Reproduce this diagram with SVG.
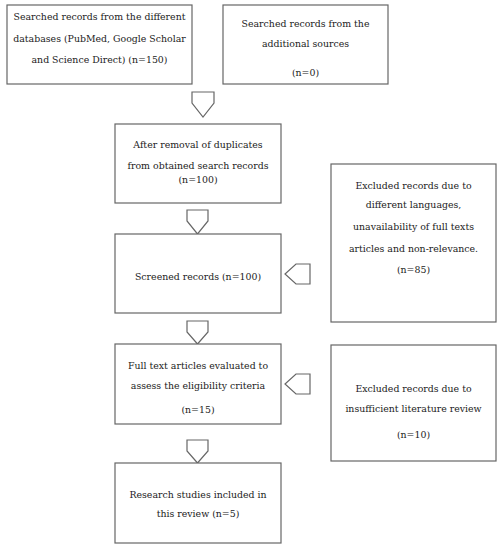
<svg xmlns="http://www.w3.org/2000/svg" width="502" height="550" viewBox="0 0 502 550">
<style>
.box{fill:#fff;stroke:#666;stroke-width:1.2}
.arr{fill:#fff;stroke:#666;stroke-width:1.2;stroke-linejoin:miter}
text{font-family:"DejaVu Serif","Liberation Serif",serif;font-size:9.4px;fill:#222;text-anchor:middle}
</style>
<rect width="502" height="550" fill="#fff"/>
<g id="connectors">
<polygon class="arr" points="192,92 214,92 214,103 203,117 192,103"/>
<polygon class="arr" points="187,210 208,210 208,221 197.5,234 187,221"/>
<polygon class="arr" points="187,321 208,321 208,332 197.5,344 187,332"/>
<polygon class="arr" points="187,440 208,440 208,451 197.5,463 187,451"/>
<polygon class="arr" points="310,264 310,284 296,284 285,274 296,264"/>
<polygon class="arr" points="310,374 310,394 296,394 285,384 296,374"/>
</g>
<g id="n1">
<rect class="box" x="7" y="5" width="185" height="79"/>
<text x="99.5" y="19.5">Searched records from the different</text>
<text x="99.5" y="41.5">databases (PubMed, Google Scholar</text>
<text x="99.5" y="62.5">and Science Direct) (n=150)</text>
</g>
<g id="n2">
<rect class="box" x="223" y="5" width="165" height="79"/>
<text x="305.5" y="26.5">Searched records from the</text>
<text x="305.5" y="46.5">additional sources</text>
<text x="305.5" y="75.5">(n=0)</text>
</g>
<g id="n3">
<rect class="box" x="115" y="124" width="166" height="79"/>
<text x="198" y="147.5">After removal of duplicates</text>
<text x="198" y="168.5">from obtained search records</text>
<text x="198" y="183">(n=100)</text>
</g>
<g id="n4">
<rect class="box" x="115" y="234" width="166" height="79"/>
<text x="198" y="279.5">Screened records (n=100)</text>
</g>
<g id="n5">
<rect class="box" x="115" y="344" width="166" height="80"/>
<text x="198" y="369">Full text articles evaluated to</text>
<text x="198" y="389">assess the eligibility criteria</text>
<text x="198" y="412.5">(n=15)</text>
</g>
<g id="n6">
<rect class="box" x="115" y="463" width="166" height="80"/>
<text x="198" y="497.5">Research studies included in</text>
<text x="198" y="516.5">this review  (n=5)</text>
</g>
<g id="n7">
<rect class="box" x="331" y="164" width="165" height="158"/>
<text x="413.5" y="189">Excluded records due to</text>
<text x="413.5" y="208">different languages,</text>
<text x="413.5" y="230">unavailability of full texts</text>
<text x="413.5" y="251.5">articles and non-relevance.</text>
<text x="413.5" y="272.5">(n=85)</text>
</g>
<g id="n8">
<rect class="box" x="331" y="345" width="165" height="116"/>
<text x="413.5" y="391.5">Excluded records due to</text>
<text x="413.5" y="411.5">insufficient literature review</text>
<text x="413.5" y="437.5">(n=10)</text>
</g>
</svg>
